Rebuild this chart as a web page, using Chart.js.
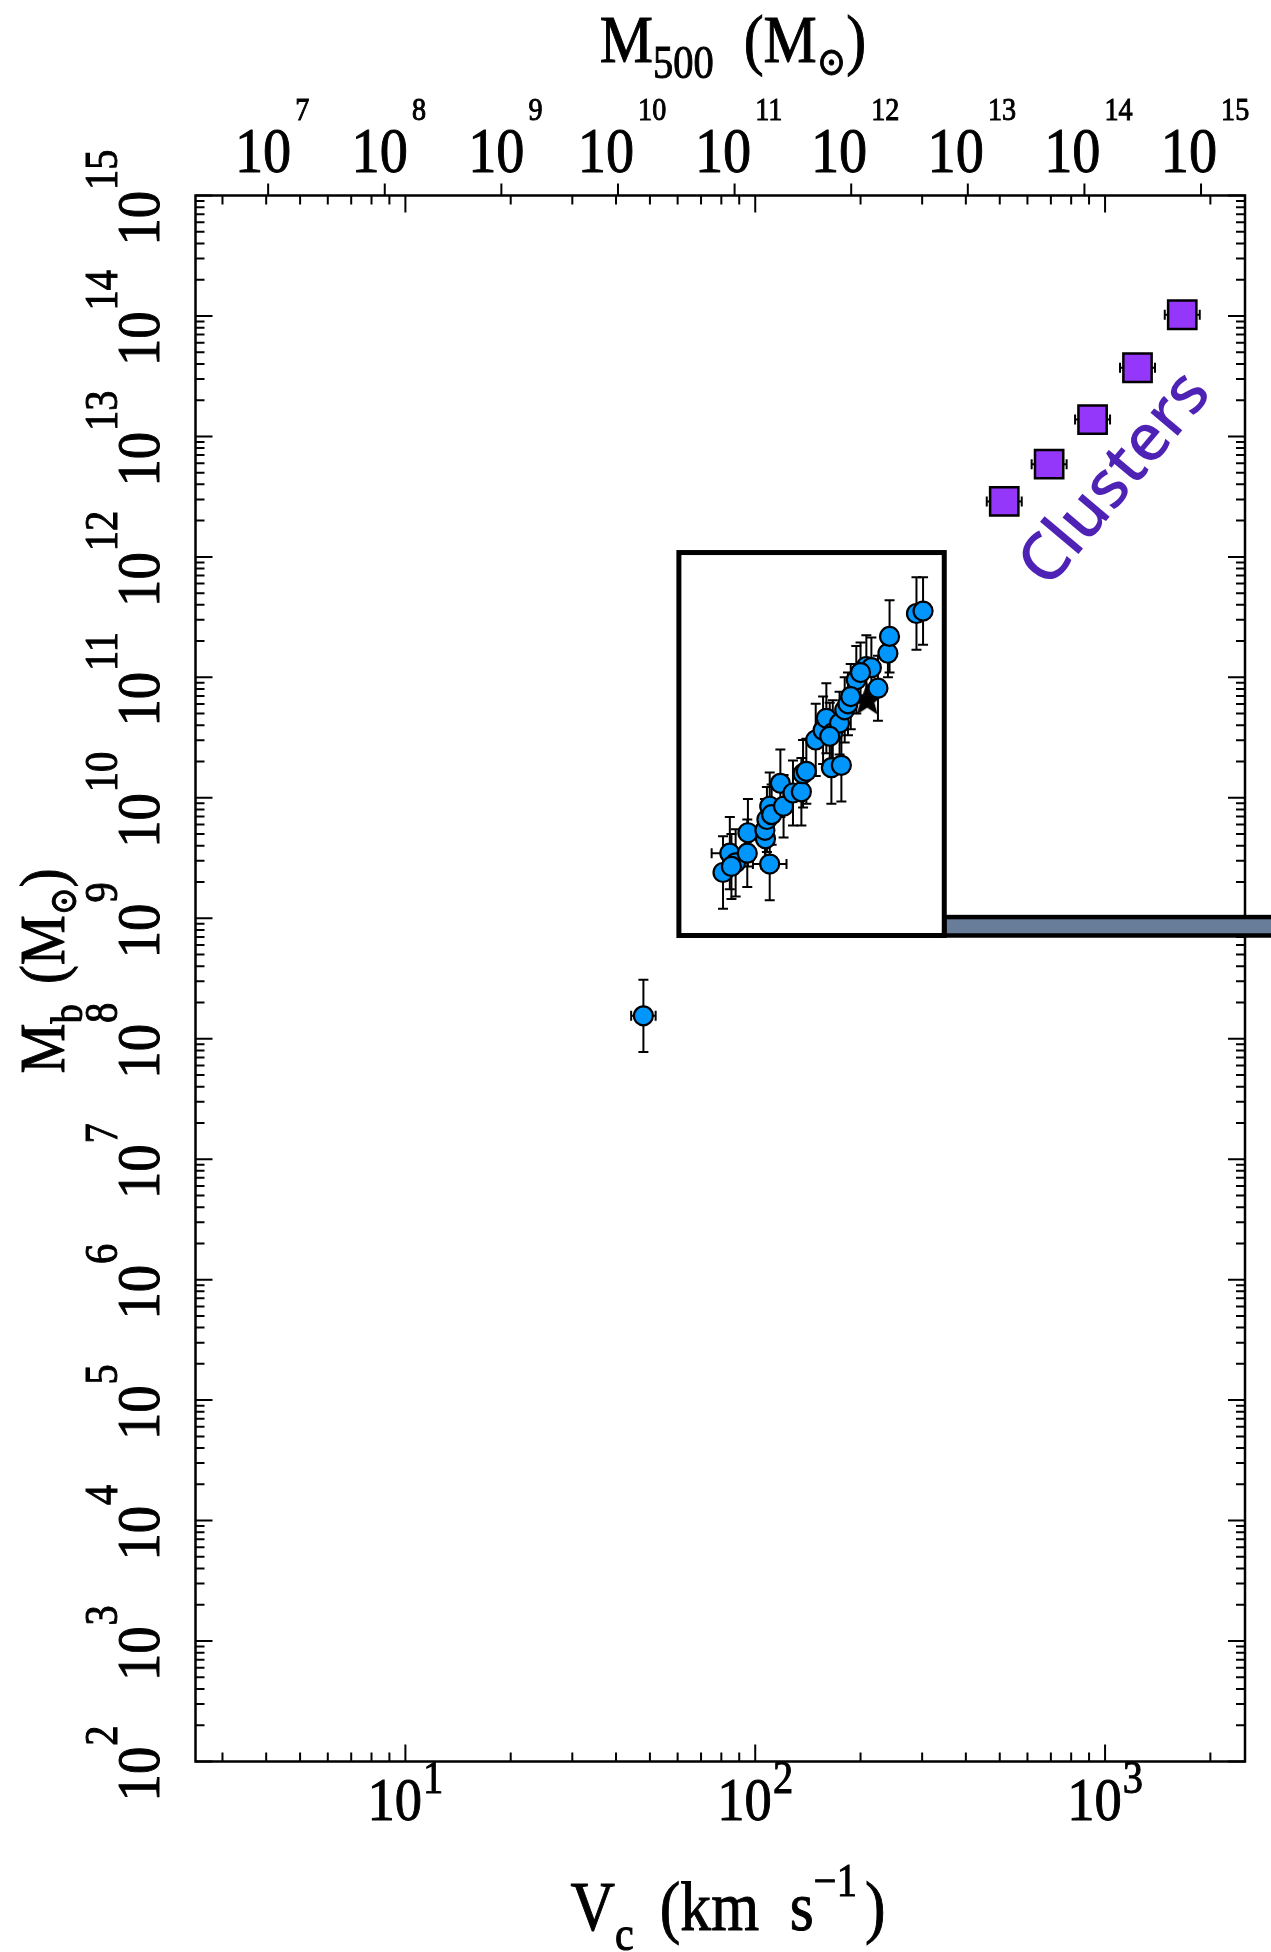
<!DOCTYPE html>
<html>
<head>
<meta charset="utf-8">
<title>Baryonic mass vs circular velocity</title>
<script src="https://cdn.jsdelivr.net/npm/chart.js@4.4.1/dist/chart.umd.min.js"></script>
<style>
  html, body { margin: 0; padding: 0; background: #fff; }
  canvas { display: block; }
</style>
</head>
<body>
<canvas id="btfChart" width="1271" height="1952"></canvas>
<script>
// Galaxies: circular velocity (km/s), log baryonic mass (Msun), errors in dex
const galaxyVc = [80.9, 84.6, 87.9, 85.5, 94.9, 95.3, 110, 107, 106.6, 108, 110, 111.4,
  118, 120.5, 128.2, 135.5, 137, 140, 148.9, 156.3, 159.7, 165.1, 176.3, 166.6, 174.2,
  180.2, 184.1, 194.5, 207.8, 214.8, 224.3, 239.5, 242.1, 289, 301.8, 200, 187.5, 163.3, 47.9];
const galaxyLogMb = [9.38, 9.54, 9.46, 9.43, 9.54, 9.71, 9.45, 9.66, 9.73, 9.82, 9.93, 9.86,
  10.12, 9.93, 10.04, 10.05, 10.20, 10.22, 10.48, 10.56, 10.66, 10.25, 10.27, 10.54, 10.62,
  10.73, 10.78, 10.98, 11.09, 11.08, 10.91, 11.20, 11.34, 11.53, 11.55, 11.04, 10.84, 10.51, 8.19];
const galaxyMbErr = [0.30, 0.30, 0.28, 0.27, 0.28, 0.28, 0.30, 0.25, 0.26, 0.27, 0.28, 0.25,
  0.28, 0.26, 0.27, 0.28, 0.28, 0.27, 0.30, 0.28, 0.29, 0.30, 0.30, 0.27, 0.26,
  0.27, 0.26, 0.28, 0.26, 0.25, 0.27, 0.20, 0.30, 0.30, 0.28, 0.25, 0.27, 0.28, 0.30];
const galaxyVcErr = [0.02, 0.052, 0.02, 0.02, 0.02, 0.02, 0.048, 0.02, 0.02, 0.02, 0.02, 0.02,
  0.02, 0.02, 0.02, 0.02, 0.02, 0.02, 0.02, 0.02, 0.02, 0.02, 0.02, 0.02, 0.02,
  0.02, 0.02, 0.02, 0.02, 0.02, 0.02, 0.02, 0.02, 0.02, 0.02, 0.02, 0.02, 0.02, 0.035];

// Milky Way
const milkyWayVc = [209];
const milkyWayLogMb = [10.81];

// Clusters
const clusterVc = [515, 692, 921, 1238, 1662];
const clusterLogMb = [12.46, 12.77, 13.14, 13.57, 14.01];
const clusterVcErr = [0.05, 0.05, 0.05, 0.05, 0.05];

// Axis ranges and labelled decades
const vcRange = [10 ** 0.4, 10 ** 3.4];
const mbRange = [1e2, 1e15];
const m500Range = [10 ** 6.377, 10 ** 15.377];
const vcLabelExps = [1, 2, 3];
const mbLabelExps = [2, 3, 4, 5, 6, 7, 8, 9, 10, 11, 12, 13, 14, 15];
const m500LabelExps = [7, 8, 9, 10, 11, 12, 13, 14, 15];

// Zoom-in box around the galaxies and the bar leading out of it
const zoomBoxVc = [60.5, 347];
const zoomBoxLogMb = [8.857, 12.036];
const zoomBarLogMb = [8.857, 9.01];

// "Clusters" label anchor (Vc, log Mb)
const clusterLabelAt = [1075, 12.64];

const serif = '"Liberation Serif", "DejaVu Serif", serif';
const squeeze = 0.88;

function partsWidth(ctx, parts) {
    let w = 0;
    parts.forEach(p => {
        ctx.font = p.size + 'px ' + serif;
        w += ctx.measureText(p.text).width * squeeze + (p.gap || 0);
    });
    return w;
}

// draw a row of text pieces (sub/superscripts via dy), centred on x
function drawParts(ctx, parts, x, y, angle) {
    ctx.save();
    ctx.translate(x, y);
    ctx.rotate(angle || 0);
    ctx.textAlign = 'left';
    ctx.textBaseline = 'alphabetic';
    ctx.fillStyle = '#000';
    ctx.strokeStyle = '#000';
    ctx.lineWidth = 1;
    let cx = -partsWidth(ctx, parts) / 2;
    parts.forEach(p => {
        ctx.font = p.size + 'px ' + serif;
        ctx.save();
        ctx.translate(cx, p.dy || 0);
        ctx.scale(squeeze, 1);
        ctx.fillText(p.text, 0, 0);
        ctx.strokeText(p.text, 0, 0);
        ctx.restore();
        cx += ctx.measureText(p.text).width * squeeze + (p.gap || 0);
    });
    ctx.restore();
}

function logTicks(min, max) {
    const out = [];
    for (let e = Math.floor(Math.log10(min)); e <= Math.ceil(Math.log10(max)); e++) {
        for (let m = 1; m <= 9; m++) {
            const v = m * 10 ** e;
            if (v >= min * 0.9999 && v <= max * 1.0001) out.push({ v, major: m === 1 });
        }
    }
    return out;
}

function starImage(r) {
    const c = document.createElement('canvas');
    c.width = c.height = 2 * r + 4;
    const g = c.getContext('2d');
    g.beginPath();
    for (let i = 0; i < 10; i++) {
        const rad = i % 2 ? r * 0.42 : r;
        const a = -Math.PI / 2 + i * Math.PI / 5;
        g.lineTo(r + 2 + rad * Math.cos(a), r + 2 + rad * Math.sin(a));
    }
    g.closePath();
    g.fillStyle = '#000';
    g.fill();
    return c;
}

const galaxyPoints = galaxyVc.map((v, i) => ({ x: v, y: 10 ** galaxyLogMb[i] }));
const milkyWayPoints = milkyWayVc.map((v, i) => ({ x: v, y: 10 ** milkyWayLogMb[i] }));
const clusterPoints = clusterVc.map((v, i) => ({ x: v, y: 10 ** clusterLogMb[i] }));

// Error bars go underneath the markers
const errorBars = {
    id: 'errorBars',
    beforeDatasetsDraw(chart) {
        const { ctx, scales: { x, y } } = chart;
        ctx.save();
        ctx.strokeStyle = '#000';
        ctx.lineWidth = 2;
        chart.data.datasets.forEach(ds => {
            ds.data.forEach((pt, i) => {
                const px = x.getPixelForValue(pt.x);
                const py = y.getPixelForValue(pt.y);
                if (ds.errY) {
                    const top = y.getPixelForValue(pt.y * 10 ** ds.errY[i]);
                    const bot = y.getPixelForValue(pt.y / 10 ** ds.errY[i]);
                    ctx.beginPath();
                    ctx.moveTo(px, top); ctx.lineTo(px, bot);
                    ctx.moveTo(px - 5, top); ctx.lineTo(px + 5, top);
                    ctx.moveTo(px - 5, bot); ctx.lineTo(px + 5, bot);
                    ctx.stroke();
                }
                if (ds.errX) {
                    const lo = x.getPixelForValue(pt.x / 10 ** ds.errX[i]);
                    const hi = x.getPixelForValue(pt.x * 10 ** ds.errX[i]);
                    ctx.beginPath();
                    ctx.moveTo(lo, py); ctx.lineTo(hi, py);
                    ctx.moveTo(lo, py - 5); ctx.lineTo(lo, py + 5);
                    ctx.moveTo(hi, py - 5); ctx.lineTo(hi, py + 5);
                    ctx.stroke();
                }
            });
        });
        ctx.restore();
    }
};

// Frame, inward ticks, top M500 axis, labels, zoom box
const decorations = {
    id: 'decorations',
    afterDraw(chart) {
        const { ctx, chartArea: area, scales: { x, y, m500 } } = chart;
        ctx.save();
        ctx.strokeStyle = '#000';
        ctx.lineWidth = 2.5;
        ctx.strokeRect(area.left, area.top, area.right - area.left, area.bottom - area.top);

        ctx.lineWidth = 2;
        ctx.beginPath();
        logTicks(vcRange[0], vcRange[1]).forEach(t => {
            const px = x.getPixelForValue(t.v);
            const len = t.major ? 17 : 9;
            ctx.moveTo(px, area.bottom); ctx.lineTo(px, area.bottom - len);
            ctx.moveTo(px, area.top); ctx.lineTo(px, area.top + len);
        });
        logTicks(mbRange[0], mbRange[1]).forEach(t => {
            const py = y.getPixelForValue(t.v);
            const len = t.major ? 17 : 9;
            ctx.moveTo(area.left, py); ctx.lineTo(area.left + len, py);
            ctx.moveTo(area.right, py); ctx.lineTo(area.right - len, py);
        });
        m500LabelExps.forEach(e => {
            const px = m500.getPixelForValue(10 ** e);
            ctx.moveTo(px, area.top); ctx.lineTo(px, area.top - 12);
        });
        ctx.stroke();

        // tick labels
        vcLabelExps.forEach(e => {
            drawParts(ctx, [{ text: '10', size: 62, gap: 1 }, { text: String(e), size: 46, dy: -27 }],
                x.getPixelForValue(10 ** e), area.bottom + 58);
        });
        m500LabelExps.forEach(e => {
            drawParts(ctx, [{ text: '10', size: 64, gap: 4 }, { text: String(e), size: 32, dy: -52 }],
                m500.getPixelForValue(10 ** e) + 4, area.top - 24);
        });
        mbLabelExps.forEach(e => {
            drawParts(ctx, [{ text: '10', size: 62, gap: 1 }, { text: String(e), size: 46, dy: -42 }],
                area.left - 37, y.getPixelForValue(10 ** e) + 2, -Math.PI / 2);
        });

        // axis titles
        drawParts(ctx, [
            { text: 'M', size: 68 }, { text: '500', size: 46, dy: 16, gap: 30 },
            { text: '(M', size: 68 }, { text: '\u2299', size: 40, dy: 13 }, { text: ')', size: 68 }
        ], 733, 62);
        drawParts(ctx, [
            { text: 'V', size: 70 }, { text: 'c', size: 48, dy: 20, gap: 26 },
            { text: '(km  s', size: 70 }, { text: '\u22121', size: 46, dy: -34, gap: 8 }, { text: ')', size: 70 }
        ], 728, 1930);
        drawParts(ctx, [
            { text: 'M', size: 64 }, { text: 'b', size: 44, dy: 18, gap: 20 },
            { text: '(M', size: 64 }, { text: '\u2299', size: 38, dy: 12 }, { text: ')', size: 64 }
        ], 64, 971, -Math.PI / 2);

        // zoom box and bar
        const bx0 = x.getPixelForValue(zoomBoxVc[0]);
        const bx1 = x.getPixelForValue(zoomBoxVc[1]);
        const by0 = y.getPixelForValue(10 ** zoomBoxLogMb[1]);
        const by1 = y.getPixelForValue(10 ** zoomBoxLogMb[0]);
        const barTop = y.getPixelForValue(10 ** zoomBarLogMb[1]);
        const barBot = y.getPixelForValue(10 ** zoomBarLogMb[0]);
        ctx.fillStyle = '#687d99';
        ctx.fillRect(bx1, barTop, chart.width - bx1 + 4, barBot - barTop);
        ctx.lineWidth = 4.5;
        ctx.strokeRect(bx1, barTop, chart.width - bx1 + 4, barBot - barTop);
        ctx.lineWidth = 5;
        ctx.strokeRect(bx0, by0, bx1 - bx0, by1 - by0);

        // cluster label
        ctx.translate(x.getPixelForValue(clusterLabelAt[0]), y.getPixelForValue(10 ** clusterLabelAt[1]));
        ctx.rotate(-50 * Math.PI / 180);
        ctx.font = '500 66px "Noto Sans", sans-serif';
        ctx.fillStyle = '#4f22b6';
        ctx.textAlign = 'center';
        ctx.textBaseline = 'middle';
        ctx.fillText('Clusters', 0, 0);
        ctx.restore();
    }
};

new Chart(document.getElementById('btfChart'), {
    type: 'scatter',
    data: {
        datasets: [
            {
                label: 'Galaxies',
                data: galaxyPoints,
                errY: galaxyMbErr,
                errX: galaxyVcErr,
                pointStyle: 'circle',
                pointRadius: 9.5,
                backgroundColor: '#0096fb',
                borderColor: '#000',
                borderWidth: 2.2
            },
            {
                label: 'Milky Way',
                data: milkyWayPoints,
                pointStyle: starImage(18),
                pointRadius: 18
            },
            {
                label: 'Clusters',
                data: clusterPoints,
                errX: clusterVcErr,
                pointStyle: 'rect',
                pointRadius: 20,
                backgroundColor: '#9537fa',
                borderColor: '#000',
                borderWidth: 2.5
            }
        ]
    },
    options: {
        responsive: false,
        animation: false,
        devicePixelRatio: 1,
        layout: { padding: { left: 195.5, top: 195.5, right: 26, bottom: 190.5 } },
        plugins: { legend: { display: false }, tooltip: { enabled: false } },
        scales: {
            x: { type: 'logarithmic', min: vcRange[0], max: vcRange[1], display: false },
            y: { type: 'logarithmic', min: mbRange[0], max: mbRange[1], display: false },
            m500: { type: 'logarithmic', axis: 'x', position: 'top', min: m500Range[0], max: m500Range[1], display: false }
        }
    },
    plugins: [errorBars, decorations]
});
</script>
</body>
</html>
